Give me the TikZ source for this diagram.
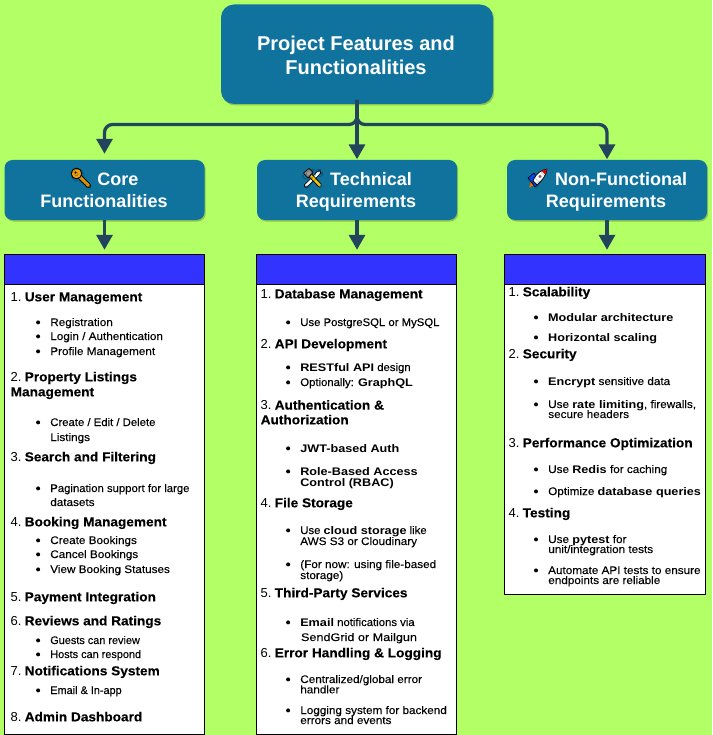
\documentclass[tikz,border=0pt]{standalone}
\usepackage{fontspec}
\usepackage{graphicx}
\usetikzlibrary{shadows,arrows.meta}
\setmainfont{Liberation Sans}
\newfontfamily\hbf[FakeStretch=1.05,FakeBold=0.25]{Liberation Sans Bold}
\newfontfamily\hrf{Liberation Sans}
\newfontfamily\bbf[FakeStretch=1.15]{Liberation Sans Bold}
\newfontfamily\brf[FakeStretch=1.065,FakeBold=0.08]{Liberation Sans}
\newfontfamily\brn[FakeStretch=1.03,FakeBold=0.08]{Liberation Sans}
\newfontfamily\brs[FakeStretch=0.99,FakeBold=0.08]{Liberation Sans}
\newfontfamily\brx[FakeStretch=1.15,FakeBold=0.08]{Liberation Sans}
\newfontfamily\emo{Noto Emoji}
\definecolor{bgc}{HTML}{B3FF66}
\definecolor{tealc}{HTML}{10739E}
\definecolor{linec}{HTML}{23445D}
\definecolor{bluec}{HTML}{3333FF}
\definecolor{keyc}{HTML}{F2A20C}
\newcounter{tn}
\newcommand{\hdn}[4]{\stepcounter{tn}\node[hdtxt] (t\thetn) at (#1,#2+.6) {\fontsize{13}{15}\selectfont\hrf #3\hspace{3.2pt}\hbf #4};}
\newcommand{\hdc}[3]{\stepcounter{tn}\node[hdtxt] (t\thetn) at (#1,#2+.6) {\fontsize{13}{15}\selectfont\hbf #3};}
\newcommand{\bln}[4]{\stepcounter{tn}\node[bulletc] (b\thetn) at (#1,#2-3.6) {};\node[hdtxt] (t\thetn) at (#1+12.2,#2) {\fontsize{11}{13}\selectfont\brf #4};}
\newcommand{\ctn}[3]{\stepcounter{tn}\node[hdtxt] (t\thetn) at (#1,#2) {\fontsize{11}{13}\selectfont\brf #3};}
\newcommand{\bon}[1]{{\bbf #1}}
\tikzset{
  titlebox/.style={draw=none,fill=tealc,rounded corners=13pt,drop shadow={shadow xshift=1.2pt,shadow yshift=-1.5pt,opacity=.22,fill=black}},
  subbox/.style={draw=none,fill=tealc,rounded corners=8pt,drop shadow={shadow xshift=1.2pt,shadow yshift=-1.5pt,opacity=.22,fill=black}},
  hdtxt/.style={anchor=base west,inner sep=0pt,outer sep=0pt,text=black},
  whitetxt/.style={anchor=base,inner sep=0pt,outer sep=0pt,text=white,font=\bfseries},
  emotxt/.style={anchor=base,inner sep=0pt,outer sep=0pt,text=black},
  bulletc/.style={circle,fill=black,inner sep=0pt,minimum size=4pt,draw=none},
  conn/.style={draw=linec,line width=3.3pt,-{Triangle[length=15pt,width=16pt]}},
  listbox/.style={draw=black,fill=white,line width=.9pt},
  headbar/.style={draw=black,fill=bluec,line width=.9pt}
}
\begin{document}
\begin{tikzpicture}[x=1pt,y=-1pt]
\path[use as bounding box,fill=bgc] (0,0) rectangle (712,735);
% boxes
\path[titlebox] (221,4.5) rectangle (493,104);
\path[subbox] (4.5,160) rectangle (204.5,220);
\path[subbox] (257,160) rectangle (457,220);
\path[subbox] (507,160) rectangle (707,220);
\coordinate (topin) at (357,100);
\node[inner sep=0,minimum size=0pt] (ca2) at (104.5,154) {};
\node[inner sep=0,minimum size=0pt] (cb) at (357,159.5) {};
\node[inner sep=0,minimum size=0pt] (cc) at (607,159.5) {};
\draw[conn,rounded corners=8pt] (topin) -- (357,124.5) -- (104.5,124.5) -- (ca2);
\draw[conn,rounded corners=8pt] (topin) -- (357,124.5) -- (607,124.5) -- (cc);
\draw[conn] (topin) -- (cb);
\coordinate (la) at (104.5,220);\coordinate (lb) at (357,220);\coordinate (lc) at (607,220);
\node[inner sep=0,minimum size=0pt] (da) at (104.5,250) {};
\node[inner sep=0,minimum size=0pt] (db) at (357,250) {};
\node[inner sep=0,minimum size=0pt] (dc) at (607,250) {};
\draw[conn] (la) -- (da);
\draw[conn] (lb) -- (db);
\draw[conn] (lc) -- (dc);
% title texts
\node[whitetxt] (tt1) at (356,51) {\fontsize{20}{24}\selectfont Project Features and};
\node[whitetxt] (tt2) at (356,75) {\fontsize{20}{24}\selectfont Functionalities};
\node[whitetxt] (s1a) at (118,185.6) {\fontsize{18}{22}\selectfont Core};
\node[whitetxt] (s1b) at (104,207.2) {\fontsize{18}{22}\selectfont Functionalities};
\node[whitetxt] (s2a) at (371,185.6) {\fontsize{18}{22}\selectfont Technical};
\node[whitetxt] (s2b) at (356,207.2) {\fontsize{18}{22}\selectfont Requirements};
\node[whitetxt] (s3a) at (621,185.6) {\fontsize{18}{22}\selectfont Non-Functional};
\node[whitetxt] (s3b) at (606,207.2) {\fontsize{18}{22}\selectfont Requirements};
% key icon
\draw[black,line width=4.6pt,line cap=round] (78,175) -- (88.5,185.5);
\draw[keyc,line width=3pt,line cap=round] (78,175) -- (88.5,185.5);
\fill[keyc,draw=black,line width=.9pt] (76.5,173.5) circle (5.3);
\fill[black] (75.5,172.5) circle (1.1);
\node[emotxt,opacity=.35] (e1) at (81,186) {\fontsize{19}{22}\selectfont\emo\reflectbox{🔑}};
% tools icon
\draw[black,line width=4.2pt,line cap=round] (306,185.5) -- (319,172.5);
\draw[white,line width=2.6pt,line cap=round] (306,185.5) -- (319,172.5);
\draw[black,line width=4.4pt] (309,174) -- (320,185.5);
\draw[keyc!60!yellow,line width=2.8pt] (309,174) -- (320,185.5);
\fill[black!40,draw=black,line width=.7pt] (303.5,173) -- (309,168.5) -- (313,172.5) -- (308,178) -- cycle;
\node[emotxt,opacity=.35] (e2) at (313,186) {\fontsize{19}{22}\selectfont\emo 🛠};
% rocket icon
\fill[orange] (529,187.5) -- (531,180.5) -- (535.5,185) -- cycle;
\fill[blue!70!cyan,draw=black,line width=.6pt] (528,178) -- (534,173) -- (540,182) -- (535,187) -- cycle;
\fill[white,draw=black,line width=.7pt] (533,181) .. controls (536,173) and (541,170) .. (547,169) .. controls (546,175) and (543,180) .. (537,185) -- cycle;
\fill[red!90!black] (541.5,171) .. controls (543.5,170) and (545,169.5) .. (547,169) .. controls (546.7,171) and (546,173) .. (545,174.5) -- cycle;
\fill[black!45] (540,176.5) circle (1.7);
\node[emotxt,opacity=.25] (e3) at (538,186) {\fontsize{19}{22}\selectfont\emo 🚀};
% lists
\path[listbox] (4.5,284.5) rectangle (204.5,734);
\path[headbar] (4.5,254.5) rectangle (204.5,284.5);
\path[listbox] (256.5,284.5) rectangle (456.5,734);
\path[headbar] (256.5,254.5) rectangle (456.5,284.5);
\path[listbox] (504.5,284.5) rectangle (705.5,594);
\path[headbar] (504.5,254.5) rectangle (705.5,284.5);
% column 1
\def\X{10.7}\def\B{38.1}
\hdn{\X}{300.7}{1.}{User Management}
\bln{\B}{326}{}{Registration}
\bln{\B}{340}{}{Login / Authentication}
\bln{\B}{355}{}{Profile Management}
\hdn{\X}{380.7}{2.}{Property Listings}
\hdc{\X}{395.7}{Management}
\bln{\B}{426}{}{\brn Create / Edit / Delete}
\ctn{50.3}{441}{Listings}
\hdn{\X}{460.7}{3.}{Search and Filtering}
\bln{\B}{492}{}{\brn Pagination support for large}
\ctn{50.3}{506}{datasets}
\hdn{\X}{525.7}{4.}{Booking Management}
\bln{\B}{544}{}{Create Bookings}
\bln{\B}{558}{}{Cancel Bookings}
\bln{\B}{573}{}{View Booking Statuses}
\hdn{\X}{600.7}{5.}{Payment Integration}
\hdn{\X}{624.7}{6.}{Reviews and Ratings}
\bln{\B}{644}{}{\brs Guests can review}
\bln{\B}{658}{}{\brs Hosts can respond}
\hdn{\X}{674.7}{7.}{Notifications System}
\bln{\B}{694}{}{\brs Email \& In-app}
\hdn{\X}{720.7}{8.}{Admin Dashboard}
% column 2
\def\X{260.7}\def\B{288.1}
\hdn{\X}{297.7}{1.}{Database Management}
\bln{\B}{326}{}{\brn Use PostgreSQL or MySQL}
\hdn{\X}{347.7}{2.}{API Development}
\bln{\B}{371}{}{\brn\bon{RESTful API} design}
\bln{\B}{386}{}{\brn Optionally: \bon{GraphQL}}
\hdn{\X}{409}{3.}{Authentication \&}
\hdc{\X}{423.7}{Authorization}
\bln{\B}{452}{}{\bon{JWT-based Auth}}
\bln{\B}{475}{}{\bon{Role-Based Access}}
\ctn{300.3}{486}{\bon{Control (RBAC)}}
\hdn{\X}{506.7}{4.}{File Storage}
\bln{\B}{534}{}{\brn Use \bon{cloud storage} like}
\ctn{300.3}{545}{AWS S3 or Cloudinary}
\bln{\B}{568}{}{(For now: using file-based}
\ctn{300.3}{579}{storage)}
\hdn{\X}{596.7}{5.}{Third-Party Services}
\bln{\B}{626}{}{\brn\bon{Email} notifications via}
\ctn{301}{641}{\brx SendGrid or Mailgun}
\hdn{\X}{656.7}{6.}{Error Handling \& Logging}
\bln{\B}{683}{}{Centralized/global error}
\ctn{300.3}{693.3}{handler}
\bln{\B}{714}{}{Logging system for backend}
\ctn{300.3}{724}{errors and events}
% column 3
\def\X{508.7}\def\B{536}
\hdn{\X}{295.7}{1.}{Scalability}
\bln{\B}{321}{}{\bon{Modular architecture}}
\bln{\B}{341}{}{\bon{Horizontal scaling}}
\hdn{\X}{357.7}{2.}{Security}
\bln{\B}{385}{}{\bon{Encrypt} sensitive data}
\bln{\B}{408}{}{Use \bon{rate limiting}, firewalls,}
\ctn{548.3}{418}{secure headers}
\hdn{\X}{446.7}{3.}{Performance Optimization}
\bln{\B}{473}{}{Use \bon{Redis} for caching}
\bln{\B}{495}{}{Optimize \bon{database queries}}
\hdn{\X}{516.7}{4.}{Testing}
\bln{\B}{543}{}{Use \bon{pytest} for}
\ctn{548.3}{553}{unit/integration tests}
\bln{\B}{574}{}{Automate API tests to ensure}
\ctn{548.3}{584}{endpoints are reliable}
\end{tikzpicture}
\end{document}
